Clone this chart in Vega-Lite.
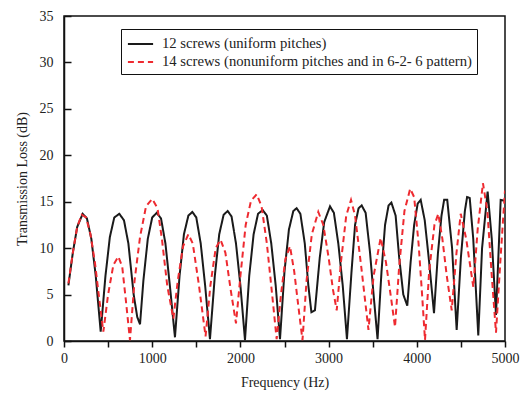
{
  "$schema": "https://vega.github.io/schema/vega-lite/v6.json",
  "autosize": "none",
  "width": 441,
  "height": 325,
  "padding": {"left": 64, "top": 16, "right": 19, "bottom": 58},
  "background": "white",
  "config": {
    "font": "Liberation Serif",
    "view": {"stroke": "#111", "strokeWidth": 1.5},
    "axis": {"grid": false, "domainColor": "#111", "domainWidth": 1.5, "tickColor": "#111", "tickWidth": 1.5, "labelFont": "Liberation Serif", "titleFont": "Liberation Serif", "labelFontSize": 14, "titleFontSize": 14, "labelColor": "#222", "titleColor": "#222", "titleFontWeight": "normal"}
  },
  "datasets": {
    "tl": [
      {"f": 50, "v": 6.0, "s": "12 screws (uniform pitches)"},
      {"f": 100, "v": 9.5, "s": "12 screws (uniform pitches)"},
      {"f": 150, "v": 12.3, "s": "12 screws (uniform pitches)"},
      {"f": 212, "v": 13.7, "s": "12 screws (uniform pitches)"},
      {"f": 260, "v": 13.2, "s": "12 screws (uniform pitches)"},
      {"f": 310, "v": 11.0, "s": "12 screws (uniform pitches)"},
      {"f": 360, "v": 7.0, "s": "12 screws (uniform pitches)"},
      {"f": 416, "v": 1.0, "s": "12 screws (uniform pitches)"},
      {"f": 470, "v": 7.0, "s": "12 screws (uniform pitches)"},
      {"f": 520, "v": 11.2, "s": "12 screws (uniform pitches)"},
      {"f": 570, "v": 13.3, "s": "12 screws (uniform pitches)"},
      {"f": 627, "v": 13.7, "s": "12 screws (uniform pitches)"},
      {"f": 680, "v": 13.0, "s": "12 screws (uniform pitches)"},
      {"f": 730, "v": 10.5, "s": "12 screws (uniform pitches)"},
      {"f": 790, "v": 5.0, "s": "12 screws (uniform pitches)"},
      {"f": 830, "v": 2.6, "s": "12 screws (uniform pitches)"},
      {"f": 862, "v": 1.8, "s": "12 screws (uniform pitches)"},
      {"f": 900, "v": 6.5, "s": "12 screws (uniform pitches)"},
      {"f": 950, "v": 11.0, "s": "12 screws (uniform pitches)"},
      {"f": 1000, "v": 13.3, "s": "12 screws (uniform pitches)"},
      {"f": 1051, "v": 13.8, "s": "12 screws (uniform pitches)"},
      {"f": 1100, "v": 13.2, "s": "12 screws (uniform pitches)"},
      {"f": 1150, "v": 10.5, "s": "12 screws (uniform pitches)"},
      {"f": 1200, "v": 6.0, "s": "12 screws (uniform pitches)"},
      {"f": 1258, "v": 0.4, "s": "12 screws (uniform pitches)"},
      {"f": 1310, "v": 7.0, "s": "12 screws (uniform pitches)"},
      {"f": 1360, "v": 11.5, "s": "12 screws (uniform pitches)"},
      {"f": 1410, "v": 13.5, "s": "12 screws (uniform pitches)"},
      {"f": 1455, "v": 13.9, "s": "12 screws (uniform pitches)"},
      {"f": 1500, "v": 13.3, "s": "12 screws (uniform pitches)"},
      {"f": 1550, "v": 10.5, "s": "12 screws (uniform pitches)"},
      {"f": 1600, "v": 6.0, "s": "12 screws (uniform pitches)"},
      {"f": 1655, "v": 0.2, "s": "12 screws (uniform pitches)"},
      {"f": 1710, "v": 7.0, "s": "12 screws (uniform pitches)"},
      {"f": 1760, "v": 11.5, "s": "12 screws (uniform pitches)"},
      {"f": 1810, "v": 13.6, "s": "12 screws (uniform pitches)"},
      {"f": 1856, "v": 14.0, "s": "12 screws (uniform pitches)"},
      {"f": 1900, "v": 13.4, "s": "12 screws (uniform pitches)"},
      {"f": 1950, "v": 10.5, "s": "12 screws (uniform pitches)"},
      {"f": 2000, "v": 6.0, "s": "12 screws (uniform pitches)"},
      {"f": 2052, "v": 0.1, "s": "12 screws (uniform pitches)"},
      {"f": 2100, "v": 7.0, "s": "12 screws (uniform pitches)"},
      {"f": 2150, "v": 11.5, "s": "12 screws (uniform pitches)"},
      {"f": 2200, "v": 13.7, "s": "12 screws (uniform pitches)"},
      {"f": 2253, "v": 14.1, "s": "12 screws (uniform pitches)"},
      {"f": 2300, "v": 13.5, "s": "12 screws (uniform pitches)"},
      {"f": 2350, "v": 10.5, "s": "12 screws (uniform pitches)"},
      {"f": 2400, "v": 6.0, "s": "12 screws (uniform pitches)"},
      {"f": 2449, "v": 0.2, "s": "12 screws (uniform pitches)"},
      {"f": 2500, "v": 7.5, "s": "12 screws (uniform pitches)"},
      {"f": 2550, "v": 12.0, "s": "12 screws (uniform pitches)"},
      {"f": 2600, "v": 14.0, "s": "12 screws (uniform pitches)"},
      {"f": 2638, "v": 14.3, "s": "12 screws (uniform pitches)"},
      {"f": 2680, "v": 13.7, "s": "12 screws (uniform pitches)"},
      {"f": 2730, "v": 10.5, "s": "12 screws (uniform pitches)"},
      {"f": 2770, "v": 6.0, "s": "12 screws (uniform pitches)"},
      {"f": 2805, "v": 3.1, "s": "12 screws (uniform pitches)"},
      {"f": 2845, "v": 3.3, "s": "12 screws (uniform pitches)"},
      {"f": 2900, "v": 9.0, "s": "12 screws (uniform pitches)"},
      {"f": 2950, "v": 12.8, "s": "12 screws (uniform pitches)"},
      {"f": 3016, "v": 14.5, "s": "12 screws (uniform pitches)"},
      {"f": 3060, "v": 13.8, "s": "12 screws (uniform pitches)"},
      {"f": 3110, "v": 10.5, "s": "12 screws (uniform pitches)"},
      {"f": 3160, "v": 6.0, "s": "12 screws (uniform pitches)"},
      {"f": 3208, "v": 0.2, "s": "12 screws (uniform pitches)"},
      {"f": 3260, "v": 7.5, "s": "12 screws (uniform pitches)"},
      {"f": 3300, "v": 12.5, "s": "12 screws (uniform pitches)"},
      {"f": 3340, "v": 14.3, "s": "12 screws (uniform pitches)"},
      {"f": 3375, "v": 14.6, "s": "12 screws (uniform pitches)"},
      {"f": 3420, "v": 13.8, "s": "12 screws (uniform pitches)"},
      {"f": 3470, "v": 9.5, "s": "12 screws (uniform pitches)"},
      {"f": 3510, "v": 5.0, "s": "12 screws (uniform pitches)"},
      {"f": 3555, "v": 0.2, "s": "12 screws (uniform pitches)"},
      {"f": 3600, "v": 7.5, "s": "12 screws (uniform pitches)"},
      {"f": 3640, "v": 12.5, "s": "12 screws (uniform pitches)"},
      {"f": 3680, "v": 14.6, "s": "12 screws (uniform pitches)"},
      {"f": 3712, "v": 14.9, "s": "12 screws (uniform pitches)"},
      {"f": 3760, "v": 13.5, "s": "12 screws (uniform pitches)"},
      {"f": 3800, "v": 9.0, "s": "12 screws (uniform pitches)"},
      {"f": 3847, "v": 5.0, "s": "12 screws (uniform pitches)"},
      {"f": 3892, "v": 3.8, "s": "12 screws (uniform pitches)"},
      {"f": 3930, "v": 8.5, "s": "12 screws (uniform pitches)"},
      {"f": 3970, "v": 12.5, "s": "12 screws (uniform pitches)"},
      {"f": 4010, "v": 14.8, "s": "12 screws (uniform pitches)"},
      {"f": 4044, "v": 15.2, "s": "12 screws (uniform pitches)"},
      {"f": 4090, "v": 13.0, "s": "12 screws (uniform pitches)"},
      {"f": 4140, "v": 8.5, "s": "12 screws (uniform pitches)"},
      {"f": 4195, "v": 3.0, "s": "12 screws (uniform pitches)"},
      {"f": 4240, "v": 9.5, "s": "12 screws (uniform pitches)"},
      {"f": 4280, "v": 13.5, "s": "12 screws (uniform pitches)"},
      {"f": 4310, "v": 15.2, "s": "12 screws (uniform pitches)"},
      {"f": 4345, "v": 15.2, "s": "12 screws (uniform pitches)"},
      {"f": 4400, "v": 10.0, "s": "12 screws (uniform pitches)"},
      {"f": 4452, "v": 1.2, "s": "12 screws (uniform pitches)"},
      {"f": 4500, "v": 9.0, "s": "12 screws (uniform pitches)"},
      {"f": 4545, "v": 14.0, "s": "12 screws (uniform pitches)"},
      {"f": 4570, "v": 15.5, "s": "12 screws (uniform pitches)"},
      {"f": 4600, "v": 15.4, "s": "12 screws (uniform pitches)"},
      {"f": 4640, "v": 11.0, "s": "12 screws (uniform pitches)"},
      {"f": 4697, "v": 0.6, "s": "12 screws (uniform pitches)"},
      {"f": 4740, "v": 10.0, "s": "12 screws (uniform pitches)"},
      {"f": 4803, "v": 16.1, "s": "12 screws (uniform pitches)"},
      {"f": 4850, "v": 11.0, "s": "12 screws (uniform pitches)"},
      {"f": 4898, "v": 2.8, "s": "12 screws (uniform pitches)"},
      {"f": 4951, "v": 15.2, "s": "12 screws (uniform pitches)"},
      {"f": 5000, "v": 15.1, "s": "12 screws (uniform pitches)"},

      {"f": 50, "v": 6.2, "s": "14 screws (nonuniform pitches and in 6-2- 6 pattern)"},
      {"f": 100, "v": 9.5, "s": "14 screws (nonuniform pitches and in 6-2- 6 pattern)"},
      {"f": 150, "v": 12.3, "s": "14 screws (nonuniform pitches and in 6-2- 6 pattern)"},
      {"f": 201, "v": 13.6, "s": "14 screws (nonuniform pitches and in 6-2- 6 pattern)"},
      {"f": 250, "v": 13.3, "s": "14 screws (nonuniform pitches and in 6-2- 6 pattern)"},
      {"f": 300, "v": 11.5, "s": "14 screws (nonuniform pitches and in 6-2- 6 pattern)"},
      {"f": 350, "v": 8.5, "s": "14 screws (nonuniform pitches and in 6-2- 6 pattern)"},
      {"f": 400, "v": 4.5, "s": "14 screws (nonuniform pitches and in 6-2- 6 pattern)"},
      {"f": 446, "v": 1.0, "s": "14 screws (nonuniform pitches and in 6-2- 6 pattern)"},
      {"f": 500, "v": 5.0, "s": "14 screws (nonuniform pitches and in 6-2- 6 pattern)"},
      {"f": 560, "v": 8.2, "s": "14 screws (nonuniform pitches and in 6-2- 6 pattern)"},
      {"f": 616, "v": 9.1, "s": "14 screws (nonuniform pitches and in 6-2- 6 pattern)"},
      {"f": 660, "v": 8.0, "s": "14 screws (nonuniform pitches and in 6-2- 6 pattern)"},
      {"f": 700, "v": 4.5, "s": "14 screws (nonuniform pitches and in 6-2- 6 pattern)"},
      {"f": 748, "v": 0.1, "s": "14 screws (nonuniform pitches and in 6-2- 6 pattern)"},
      {"f": 800, "v": 6.5, "s": "14 screws (nonuniform pitches and in 6-2- 6 pattern)"},
      {"f": 862, "v": 11.2, "s": "14 screws (nonuniform pitches and in 6-2- 6 pattern)"},
      {"f": 930, "v": 14.5, "s": "14 screws (nonuniform pitches and in 6-2- 6 pattern)"},
      {"f": 1000, "v": 15.3, "s": "14 screws (nonuniform pitches and in 6-2- 6 pattern)"},
      {"f": 1060, "v": 14.3, "s": "14 screws (nonuniform pitches and in 6-2- 6 pattern)"},
      {"f": 1110, "v": 11.0, "s": "14 screws (nonuniform pitches and in 6-2- 6 pattern)"},
      {"f": 1170, "v": 6.0, "s": "14 screws (nonuniform pitches and in 6-2- 6 pattern)"},
      {"f": 1240, "v": 2.4, "s": "14 screws (nonuniform pitches and in 6-2- 6 pattern)"},
      {"f": 1290, "v": 6.5, "s": "14 screws (nonuniform pitches and in 6-2- 6 pattern)"},
      {"f": 1350, "v": 10.2, "s": "14 screws (nonuniform pitches and in 6-2- 6 pattern)"},
      {"f": 1410, "v": 11.5, "s": "14 screws (nonuniform pitches and in 6-2- 6 pattern)"},
      {"f": 1460, "v": 10.5, "s": "14 screws (nonuniform pitches and in 6-2- 6 pattern)"},
      {"f": 1530, "v": 6.0, "s": "14 screws (nonuniform pitches and in 6-2- 6 pattern)"},
      {"f": 1605, "v": 0.5, "s": "14 screws (nonuniform pitches and in 6-2- 6 pattern)"},
      {"f": 1660, "v": 6.0, "s": "14 screws (nonuniform pitches and in 6-2- 6 pattern)"},
      {"f": 1720, "v": 10.0, "s": "14 screws (nonuniform pitches and in 6-2- 6 pattern)"},
      {"f": 1775, "v": 10.9, "s": "14 screws (nonuniform pitches and in 6-2- 6 pattern)"},
      {"f": 1830, "v": 9.5, "s": "14 screws (nonuniform pitches and in 6-2- 6 pattern)"},
      {"f": 1890, "v": 5.5, "s": "14 screws (nonuniform pitches and in 6-2- 6 pattern)"},
      {"f": 1950, "v": 1.9, "s": "14 screws (nonuniform pitches and in 6-2- 6 pattern)"},
      {"f": 2000, "v": 7.0, "s": "14 screws (nonuniform pitches and in 6-2- 6 pattern)"},
      {"f": 2060, "v": 12.5, "s": "14 screws (nonuniform pitches and in 6-2- 6 pattern)"},
      {"f": 2120, "v": 15.1, "s": "14 screws (nonuniform pitches and in 6-2- 6 pattern)"},
      {"f": 2185, "v": 15.8, "s": "14 screws (nonuniform pitches and in 6-2- 6 pattern)"},
      {"f": 2240, "v": 14.5, "s": "14 screws (nonuniform pitches and in 6-2- 6 pattern)"},
      {"f": 2300, "v": 10.5, "s": "14 screws (nonuniform pitches and in 6-2- 6 pattern)"},
      {"f": 2360, "v": 5.0, "s": "14 screws (nonuniform pitches and in 6-2- 6 pattern)"},
      {"f": 2411, "v": 0.2, "s": "14 screws (nonuniform pitches and in 6-2- 6 pattern)"},
      {"f": 2460, "v": 5.0, "s": "14 screws (nonuniform pitches and in 6-2- 6 pattern)"},
      {"f": 2510, "v": 8.8, "s": "14 screws (nonuniform pitches and in 6-2- 6 pattern)"},
      {"f": 2562, "v": 10.2, "s": "14 screws (nonuniform pitches and in 6-2- 6 pattern)"},
      {"f": 2610, "v": 7.5, "s": "14 screws (nonuniform pitches and in 6-2- 6 pattern)"},
      {"f": 2660, "v": 3.5, "s": "14 screws (nonuniform pitches and in 6-2- 6 pattern)"},
      {"f": 2704, "v": 0.1, "s": "14 screws (nonuniform pitches and in 6-2- 6 pattern)"},
      {"f": 2750, "v": 6.5, "s": "14 screws (nonuniform pitches and in 6-2- 6 pattern)"},
      {"f": 2810, "v": 11.5, "s": "14 screws (nonuniform pitches and in 6-2- 6 pattern)"},
      {"f": 2883, "v": 13.9, "s": "14 screws (nonuniform pitches and in 6-2- 6 pattern)"},
      {"f": 2940, "v": 12.5, "s": "14 screws (nonuniform pitches and in 6-2- 6 pattern)"},
      {"f": 3000, "v": 9.0, "s": "14 screws (nonuniform pitches and in 6-2- 6 pattern)"},
      {"f": 3050, "v": 5.5, "s": "14 screws (nonuniform pitches and in 6-2- 6 pattern)"},
      {"f": 3092, "v": 3.3, "s": "14 screws (nonuniform pitches and in 6-2- 6 pattern)"},
      {"f": 3140, "v": 8.5, "s": "14 screws (nonuniform pitches and in 6-2- 6 pattern)"},
      {"f": 3200, "v": 13.5, "s": "14 screws (nonuniform pitches and in 6-2- 6 pattern)"},
      {"f": 3254, "v": 15.2, "s": "14 screws (nonuniform pitches and in 6-2- 6 pattern)"},
      {"f": 3300, "v": 13.5, "s": "14 screws (nonuniform pitches and in 6-2- 6 pattern)"},
      {"f": 3370, "v": 8.0, "s": "14 screws (nonuniform pitches and in 6-2- 6 pattern)"},
      {"f": 3452, "v": 1.2, "s": "14 screws (nonuniform pitches and in 6-2- 6 pattern)"},
      {"f": 3510, "v": 7.0, "s": "14 screws (nonuniform pitches and in 6-2- 6 pattern)"},
      {"f": 3590, "v": 11.1, "s": "14 screws (nonuniform pitches and in 6-2- 6 pattern)"},
      {"f": 3650, "v": 8.5, "s": "14 screws (nonuniform pitches and in 6-2- 6 pattern)"},
      {"f": 3710, "v": 4.5, "s": "14 screws (nonuniform pitches and in 6-2- 6 pattern)"},
      {"f": 3753, "v": 1.5, "s": "14 screws (nonuniform pitches and in 6-2- 6 pattern)"},
      {"f": 3800, "v": 8.0, "s": "14 screws (nonuniform pitches and in 6-2- 6 pattern)"},
      {"f": 3860, "v": 14.0, "s": "14 screws (nonuniform pitches and in 6-2- 6 pattern)"},
      {"f": 3925, "v": 16.4, "s": "14 screws (nonuniform pitches and in 6-2- 6 pattern)"},
      {"f": 3970, "v": 15.5, "s": "14 screws (nonuniform pitches and in 6-2- 6 pattern)"},
      {"f": 4020, "v": 10.5, "s": "14 screws (nonuniform pitches and in 6-2- 6 pattern)"},
      {"f": 4060, "v": 5.0, "s": "14 screws (nonuniform pitches and in 6-2- 6 pattern)"},
      {"f": 4093, "v": 0.1, "s": "14 screws (nonuniform pitches and in 6-2- 6 pattern)"},
      {"f": 4140, "v": 7.5, "s": "14 screws (nonuniform pitches and in 6-2- 6 pattern)"},
      {"f": 4200, "v": 12.5, "s": "14 screws (nonuniform pitches and in 6-2- 6 pattern)"},
      {"f": 4244, "v": 13.7, "s": "14 screws (nonuniform pitches and in 6-2- 6 pattern)"},
      {"f": 4290, "v": 11.0, "s": "14 screws (nonuniform pitches and in 6-2- 6 pattern)"},
      {"f": 4340, "v": 7.0, "s": "14 screws (nonuniform pitches and in 6-2- 6 pattern)"},
      {"f": 4396, "v": 3.3, "s": "14 screws (nonuniform pitches and in 6-2- 6 pattern)"},
      {"f": 4450, "v": 9.5, "s": "14 screws (nonuniform pitches and in 6-2- 6 pattern)"},
      {"f": 4498, "v": 13.7, "s": "14 screws (nonuniform pitches and in 6-2- 6 pattern)"},
      {"f": 4560, "v": 11.0, "s": "14 screws (nonuniform pitches and in 6-2- 6 pattern)"},
      {"f": 4641, "v": 5.8, "s": "14 screws (nonuniform pitches and in 6-2- 6 pattern)"},
      {"f": 4690, "v": 12.0, "s": "14 screws (nonuniform pitches and in 6-2- 6 pattern)"},
      {"f": 4750, "v": 17.0, "s": "14 screws (nonuniform pitches and in 6-2- 6 pattern)"},
      {"f": 4800, "v": 14.0, "s": "14 screws (nonuniform pitches and in 6-2- 6 pattern)"},
      {"f": 4850, "v": 7.0, "s": "14 screws (nonuniform pitches and in 6-2- 6 pattern)"},
      {"f": 4898, "v": 0.9, "s": "14 screws (nonuniform pitches and in 6-2- 6 pattern)"},
      {"f": 4950, "v": 9.0, "s": "14 screws (nonuniform pitches and in 6-2- 6 pattern)"},
      {"f": 5000, "v": 16.2, "s": "14 screws (nonuniform pitches and in 6-2- 6 pattern)"}
    ]
  },
  "data": {"name": "tl"},
  "mark": {"type": "line", "strokeWidth": 2, "clip": true},
  "encoding": {
    "x": {
      "field": "f", "type": "quantitative", "title": "Frequency (Hz)",
      "scale": {"domain": [0, 5000], "nice": false},
      "axis": {"values": [0, 500, 1000, 1500, 2000, 2500, 3000, 3500, 4000, 4500, 5000], "labelExpr": "datum.value % 1000 === 0 ? datum.value : ''", "tickSize": 6, "labelPadding": 4, "titlePadding": 10, "labelFlush": false}
    },
    "y": {
      "field": "v", "type": "quantitative", "title": "Transmission Loss (dB)",
      "scale": {"domain": [0, 35], "nice": false},
      "axis": {"values": [0, 5, 10, 15, 20, 25, 30, 35], "tickSize": -7, "labelPadding": 18, "titlePadding": 10, "labelFlush": false}
    },
    "color": {
      "field": "s", "type": "nominal",
      "scale": {"domain": ["12 screws (uniform pitches)", "14 screws (nonuniform pitches and in 6-2- 6 pattern)"], "range": ["#1a1a1a", "#ee2a30"]},
      "legend": {"title": null, "orient": "none", "legendX": 57, "legendY": 13, "strokeColor": "#111", "fillColor": "white", "padding": 5, "symbolType": "M-0.9,0H1.9", "symbolSize": 324, "symbolStrokeWidth": 2, "labelOffset": 16, "labelFontSize": 14.7, "labelFont": "Liberation Serif", "labelColor": "#222", "rowPadding": 1, "labelLimit": 400}
    },
    "strokeDash": {
      "field": "s", "type": "nominal",
      "scale": {"domain": ["12 screws (uniform pitches)", "14 screws (nonuniform pitches and in 6-2- 6 pattern)"], "range": [[1, 0], [6, 4]]},
      "legend": null
    }
  }
}
